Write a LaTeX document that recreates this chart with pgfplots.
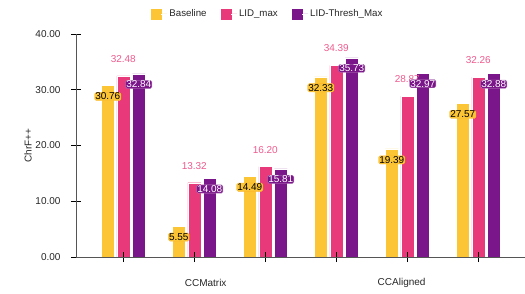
\documentclass[border=0pt]{standalone}
\usepackage{fontspec}
\setmainfont{Liberation Sans}
\usepackage{pgfplots}
\pgfplotsset{compat=1.18}
\definecolor{cYel}{HTML}{FBC535}
\definecolor{cPink}{HTML}{E8397A}
\definecolor{cPur}{HTML}{7A1689}
\definecolor{cPinkTxt}{HTML}{EE5A8E}
\definecolor{cAxis}{HTML}{555555}
\begin{document}
\begin{tikzpicture}[x=1pt,y=1pt]
\path[use as bounding box] (-76,-36) rectangle (449,257);
\begin{axis}[
  at={(0,0)}, anchor=south west,
  scale only axis, width=449pt, height=223pt,
  xmin=-0.666, xmax=5.658, ymin=0, ymax=40,
  clip=false, axis on top,
  ybar=2.5pt, bar width=13pt,
  axis x line=bottom, axis y line=left,
  axis line style={-, cAxis, line width=0.7pt},
  xtick={0,1,2,3,4,5}, xticklabels={},
  ytick={0,10,20,30,40},
  tick align=center, major tick length=10pt,
  tick style={black, line width=0.7pt},
  /pgf/number format/.cd, fixed, fixed zerofill, precision=2, assume math mode=true,
  /pgfplots/.cd,
  yticklabel style={font=\fontsize{10}{12}\selectfont, text=black!85, xshift=-7pt},
  ylabel={ChrF++},
  every axis y label/.style={at={(axis description cs:-0.107,0.5)}, rotate=90, anchor=center, font=\fontsize{10}{12}\selectfont, text=black!85},
  legend style={at={(axis description cs:0.427,1.09)}, anchor=center, draw=none, fill=none,
    font=\fontsize{9.7}{11}\selectfont, text=black!85, legend columns=3,
    /tikz/every even column/.append style={column sep=12pt}},
  nodes near coords,
]
\addplot[fill=cYel, draw=white, line width=0.4pt,
  legend image code/.code={\fill[cYel] (0pt,-5pt) rectangle (10pt,5pt); \path (10pt,0pt) -- (16pt,0pt);},
  every node near coord/.append style={anchor=center, yshift=-11pt, font=\fontsize{10}{12}\selectfont, text=black, fill=cYel, draw=cYel!80!orange, line width=0.3pt, rounded corners=1.5pt, inner sep=0.6pt}]
  coordinates {(0,30.76) (1,5.55) (2,14.49) (3,32.33) (4,19.39) (5,27.57)};
\addlegendentry{Baseline}
\addplot[fill=cPink, draw=white, line width=0.4pt,
  legend image code/.code={\fill[cPink] (0pt,-5pt) rectangle (10pt,5pt); \path (10pt,0pt) -- (16pt,0pt);},
  every node near coord/.append style={anchor=center, yshift=17pt, font=\fontsize{10}{12}\selectfont, text=cPinkTxt}]
  coordinates {(0,32.48) (1,13.32) (2,16.20) (3,34.39) (4,28.87) (5,32.26)};
\addlegendentry{LID\_max}
\addplot[fill=cPur, draw=white, line width=0.4pt,
  legend image code/.code={\fill[cPur] (0pt,-5pt) rectangle (10pt,5pt); \path (10pt,0pt) -- (16pt,0pt);},
  every node near coord/.append style={anchor=center, yshift=-10.5pt, font=\fontsize{10}{12}\selectfont, text=white, fill=cPur, draw=cPur!50!white, line width=0.3pt, rounded corners=1.5pt, inner sep=0.6pt}]
  coordinates {(0,32.84) (1,14.08) (2,15.81) (3,35.73) (4,32.97) (5,32.88)};
\addlegendentry{LID-Thresh\_Max}
\node[font=\fontsize{10}{12}\selectfont, text=black!85] at (axis cs:1.16,0) [yshift=-26pt] {CCMatrix};
\node[font=\fontsize{10}{12}\selectfont, text=black!85] at (axis cs:3.92,0) [yshift=-26pt] {CCAligned};
\end{axis}
\end{tikzpicture}
\end{document}
